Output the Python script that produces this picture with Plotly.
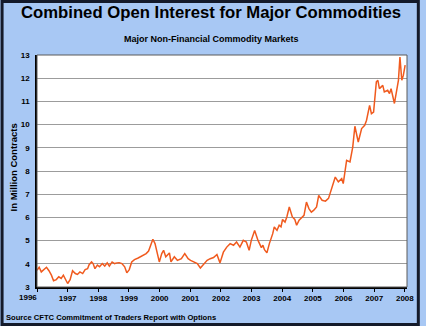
import plotly.graph_objects as go

# ---- data ----
years = [
    1996.00, 1996.07, 1996.14, 1996.22, 1996.31, 1996.39, 1996.47, 1996.54, 1996.63, 1996.71,
    1996.79, 1996.86, 1996.93, 1997.00, 1997.08, 1997.16, 1997.25, 1997.32, 1997.40, 1997.49,
    1997.57, 1997.65, 1997.70, 1997.78, 1997.83, 1997.89, 1997.97, 1998.04, 1998.13, 1998.21,
    1998.29, 1998.36, 1998.45, 1998.53, 1998.61, 1998.68, 1998.77, 1998.86, 1998.93, 1999.01,
    1999.09, 1999.18, 1999.30, 1999.46, 1999.56, 1999.64, 1999.70, 1999.78, 1999.85, 1999.92,
    1999.99, 2000.07, 2000.13, 2000.20, 2000.32, 2000.37, 2000.48, 2000.58, 2000.71, 2000.82,
    2000.93, 2001.01, 2001.12, 2001.23, 2001.33, 2001.44, 2001.55, 2001.65, 2001.76, 2001.87,
    2001.97, 2002.08, 2002.19, 2002.30, 2002.41, 2002.51, 2002.62, 2002.73, 2002.83, 2002.92,
    2002.99, 2003.10, 2003.21, 2003.32, 2003.37, 2003.42, 2003.50, 2003.58, 2003.64, 2003.69,
    2003.74, 2003.83, 2003.90, 2003.96, 2004.01, 2004.09, 2004.15, 2004.23, 2004.28, 2004.33,
    2004.41, 2004.47, 2004.55, 2004.62, 2004.71, 2004.79, 2004.87, 2004.95, 2005.03, 2005.12,
    2005.19, 2005.30, 2005.41, 2005.51, 2005.62, 2005.73, 2005.83, 2005.94, 2005.99, 2006.10,
    2006.21, 2006.30, 2006.37, 2006.48, 2006.59, 2006.69, 2006.75, 2006.85, 2006.91, 2006.98,
    2007.07, 2007.12, 2007.17, 2007.28, 2007.33, 2007.44, 2007.50, 2007.55, 2007.66, 2007.73,
    2007.79, 2007.84, 2007.90, 2007.95, 2008.01,
]
open_interest = [
    3.72, 3.85, 3.65, 3.75, 3.85, 3.70, 3.51, 3.27, 3.32, 3.44,
    3.37, 3.51, 3.30, 3.15, 3.32, 3.70, 3.58, 3.54, 3.65, 3.58,
    3.75, 3.79, 3.96, 4.08, 4.01, 3.79, 3.94, 3.87, 4.01, 3.90,
    4.04, 3.90, 4.08, 4.01, 4.04, 4.05, 4.01, 3.87, 3.61, 3.75,
    4.08, 4.18, 4.25, 4.35, 4.44, 4.55, 4.75, 5.06, 4.87, 4.44,
    4.08, 4.44, 4.58, 4.30, 4.47, 4.08, 4.30, 4.15, 4.22, 4.44,
    4.22, 4.15, 4.08, 4.01, 3.82, 4.01, 4.15, 4.22, 4.27, 4.40,
    4.04, 4.50, 4.72, 4.87, 4.80, 4.94, 4.72, 5.01, 4.94, 4.58,
    5.01, 5.44, 5.01, 4.70, 4.80, 4.61, 4.47, 4.87, 5.09, 5.30,
    5.59, 5.44, 5.66, 5.59, 5.91, 5.80, 6.02, 6.45, 6.23, 6.02,
    5.91, 5.66, 5.88, 5.99, 6.09, 6.66, 6.38, 6.23, 6.31, 6.45,
    6.95, 6.74, 6.70, 6.82, 7.31, 7.74, 7.53, 7.67, 7.46, 8.46,
    8.39, 9.03, 9.93, 9.25, 9.83, 9.97, 10.19, 10.83, 10.47, 10.54,
    11.84, 11.91, 11.55, 11.69, 11.41, 11.48, 11.34, 11.55, 10.91, 11.48,
    11.91, 12.91, 11.91, 12.12, 12.56,
]
tick_years = list(range(1996, 2009))
tick_labels = [str(y) for y in tick_years]

title = "Combined Open Interest for Major Commodities"
subtitle = "Major Non-Financial Commodity Markets"
y_title = "In Million Contracts"
source = "Source CFTC Commitment of Traders Report with Options"

# ---- layout geometry ----
W, H = 426, 326
L, R, T, B = 37, 13, 55, 39
PW, PH = W - L - R, H - T - B


def px(x):
    return (x - L) / PW


def py(y):
    return (H - B - y) / PH


FONT = "Liberation Sans, Arial, sans-serif"
BG = "#A8C8F4"

fig = go.Figure()
fig.add_trace(go.Scatter(
    x=years, y=open_interest, mode="lines",
    line=dict(color="#F05A1E", width=1.5),
    hoverinfo="skip", showlegend=False,
))

fig.update_layout(
    width=W, height=H,
    margin=dict(l=L, r=R, t=T, b=B, pad=0),
    paper_bgcolor=BG, plot_bgcolor="white",
    showlegend=False,
    font=dict(family=FONT, color="black"),
)

fig.update_xaxes(
    range=[1996, 2008.07],
    tickvals=tick_years,
    ticktext=[""] + tick_labels[1:],
    ticks="outside", ticklen=3, tickwidth=1, tickcolor="black",
    showgrid=False, zeroline=False,
    showline=True, linecolor="black", linewidth=1.5,
    tickfont=dict(family=FONT, size=8, weight="bold", color="black"),
)
fig.update_yaxes(
    range=[3, 13], dtick=1, tick0=3,
    ticks="", showgrid=True, gridcolor="#9C9C9C", gridwidth=1.3,
    zeroline=False,
    showline=True, linecolor="black", linewidth=1.5,
    tickfont=dict(family=FONT, size=8, weight="bold", color="black"),
    ticklabelstandoff=4,
)

# plot-area border (top/right) and figure border
fig.add_shape(type="rect", xref="paper", yref="paper", x0=0, x1=1, y0=0, y1=1,
              line=dict(color="#5A5A5A", width=1), layer="above")
fig.add_shape(type="rect", xref="paper", yref="paper",
              x0=px(1.5), x1=px(W - 1.5), y0=py(H - 1.5), y1=py(1.5),
              line=dict(color="#141A2A", width=3), layer="above")

ann = [
    dict(text=title, x=px(214), y=py(13), size=16.7, xanchor="center"),
    dict(text=subtitle, x=px(214), y=py(39), size=9, xanchor="center"),
    dict(text=source, x=px(3.5), y=py(317), size=7.6, xanchor="left"),
    dict(text="1996", x=px(28), y=py(297.5), size=8, xanchor="center"),
]
for a in ann:
    fig.add_annotation(text=a["text"], xref="paper", yref="paper", x=a["x"], y=a["y"],
                       xanchor=a["xanchor"], yanchor="middle", showarrow=False,
                       font=dict(family=FONT, size=a["size"], weight="bold", color="black"))
fig.add_annotation(text=y_title, xref="paper", yref="paper", x=px(13), y=py(167),
                   xanchor="center", yanchor="middle", textangle=-90, showarrow=False,
                   font=dict(family=FONT, size=9.5, weight="bold", color="black"))

fig.write_html("out.html")
